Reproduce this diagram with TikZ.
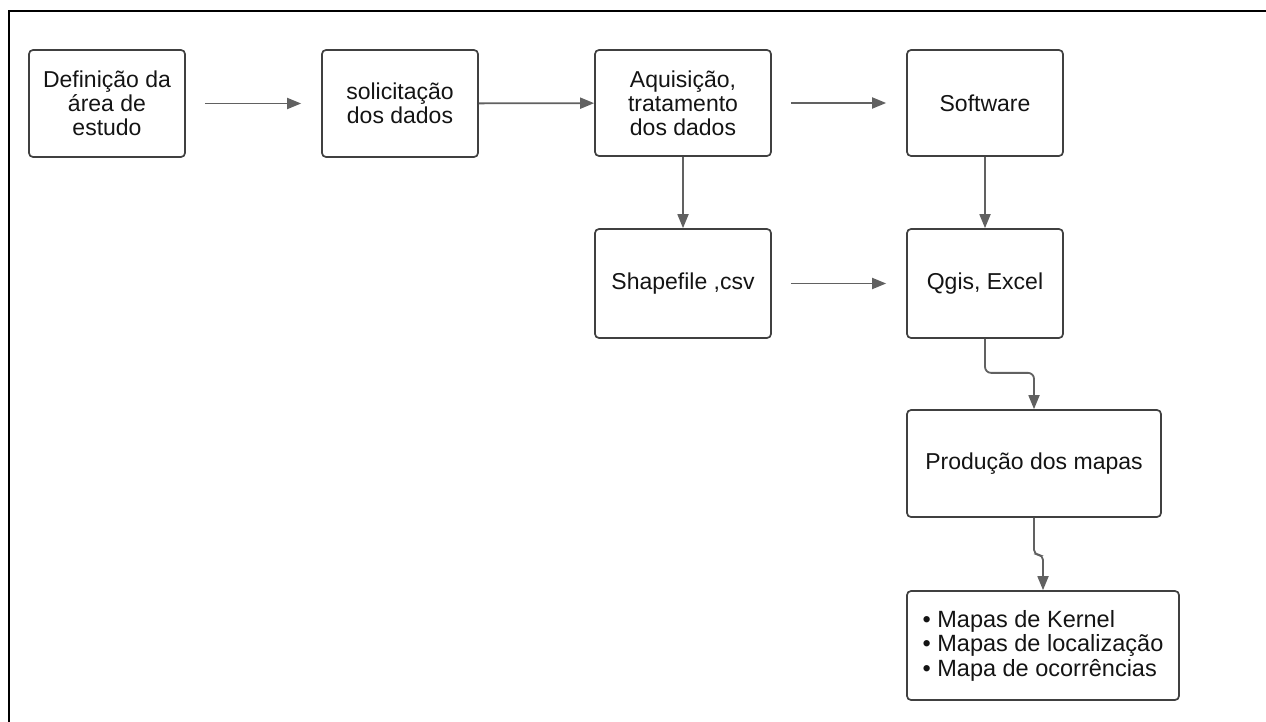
\documentclass[tikz,border=0pt]{standalone}
\usepackage{fontspec}
\setmainfont{Liberation Sans}
\usetikzlibrary{arrows.meta}

\begin{document}
\begin{tikzpicture}[x=1pt, y=-1pt, >={Triangle[length=14pt,width=11pt]}]
    \tikzstyle{etapa} = [draw=black!75, line width=1.7pt, rounded corners=4pt, rectangle, align=center, text=black!92, inner sep=0pt, font=\fontsize{23}{24}\selectfont]
    \tikzstyle{seta} = [->, draw=black!62, line width=1.8pt]

    \useasboundingbox (0,0) rectangle (1266,722);
    \draw[line width=2.2pt] (9,722) -- (9,11) -- (1266,11);

    \node[etapa, minimum width=156pt, minimum height=107pt] (def) at (107,103.5) {Definição da\\área de\\estudo};
    \node[etapa, minimum width=156pt, minimum height=107pt] (sol) at (400,103.5) {solicitação\\dos dados};
    \node[etapa, minimum width=176pt, minimum height=106pt] (aqu) at (683,103) {Aquisição,\\tratamento\\dos dados};
    \node[etapa, minimum width=156pt, minimum height=106pt] (soft) at (985,103) {Software};
    \node[etapa, minimum width=176pt, minimum height=109pt] (shp) at (683,283.5) {Shapefile ,csv};
    \node[etapa, minimum width=156pt, minimum height=109pt] (qgis) at (985,283.5) {Qgis, Excel};
    \node[etapa, minimum width=254pt, minimum height=107pt] (prod) at (1034,463.5) {Produção dos mapas};
    \node[etapa, minimum width=272pt, minimum height=109pt, align=left, font=\fontsize{23.5}{24.5}\selectfont] (maps) at (1043,645.5)
        {\textbullet\ Mapas de Kernel\\\textbullet\ Mapas de localização\\\textbullet\ Mapa de ocorrências};

    % setas com folga
    \foreach \from/\to in {def/sol, aqu/soft, shp/qgis}
    \draw [seta, shorten <=19pt, shorten >=20pt] (\from) -- (\to);
    % setas encostadas
    \foreach \from/\to in {sol/aqu, aqu/shp, soft/qgis}
    \draw [seta] (\from) -- (\to);

    \draw [seta, rounded corners=6pt] (qgis.south) -- ++(0,34) -| (prod.north);
    \draw [seta, rounded corners=5pt] (prod.south) -- ++(0,37) -| (maps.north);
\end{tikzpicture}
\end{document}
